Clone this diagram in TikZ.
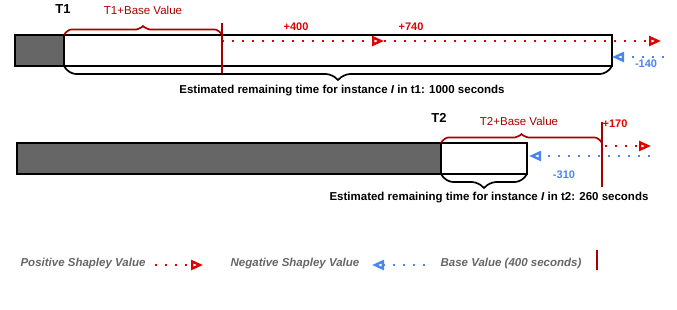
\documentclass[tikz,border=0pt]{standalone}
\usepackage{fontspec}
\setmainfont{Liberation Sans}
\usepackage{tikz}
\usetikzlibrary{positioning,arrows.meta,calc,decorations.pathreplacing}
\definecolor{basered}{RGB}{168,0,0}
\definecolor{posred}{RGB}{224,0,0}
\definecolor{negblue}{RGB}{74,134,232}
\definecolor{bargrey}{RGB}{102,102,102}
\definecolor{legendgrey}{RGB}{102,102,102}
\tikzset{
  greybar/.style={draw=black, line width=1.8pt, fill=bargrey, minimum height=31pt, inner sep=0pt, outer sep=0pt},
  whitebar/.style={draw=black, line width=1.8pt, fill=white, minimum height=31pt, inner sep=0pt, outer sep=0pt},
  posarrow/.style={posred, line width=2.2pt, dash pattern=on 2pt off 8pt, -{Triangle[open, length=12pt, width=10pt, line width=2.4pt]}},
  negarrow/.style={negblue, line width=2.2pt, dash pattern=on 2pt off 8pt, -{Triangle[open, length=12pt, width=10pt, line width=2.4pt]}},
  basemark/.style={basered, line width=2.2pt},
  basebrace/.style={basered, line width=1.7pt, rounded corners=4pt, decorate, decoration={brace, amplitude=11pt}},
  timebrace/.style={black, line width=1.7pt, rounded corners=4pt, decorate, decoration={brace, amplitude=16pt}},
  tasklabel/.style={font=\bfseries\fontsize{13}{15}\selectfont},
  baselabel/.style={text=basered, font=\fontsize{11.5}{13}\selectfont},
  poslabel/.style={text=posred, font=\bfseries\fontsize{11}{13}\selectfont},
  neglabel/.style={text=negblue, font=\bfseries\fontsize{11}{13}\selectfont},
  timelabel/.style={font=\bfseries\fontsize{11.5}{13}\selectfont},
  legendlabel/.style={text=legendgrey, font=\bfseries\itshape\fontsize{11.5}{13}\selectfont}
}
\begin{document}
\begin{tikzpicture}[x=1pt, y=-1pt, >=Latex]
  \useasboundingbox (0,0) rectangle (677,309);
  % task t1
  \node[greybar, minimum width=49pt, anchor=north west] (g1) at (15,35) {};
  \node[whitebar, minimum width=548pt, anchor=west] (w1) at (g1.east) {};
  \node[tasklabel] (t1) at (63,9) {T1};
  \coordinate (b1top) at (222,23);
  \coordinate (b1bot) at (222,73);
  \draw[basebrace] (w1.north west) -- (w1.north west -| b1top);
  \node[baselabel] (bv1) at (143,10) {T1+Base Value};
  \draw[timebrace] (w1.south east) -- (w1.south west);
  \node[timelabel] (est1) at (342,91) {Estimated remaining time for instance \textit{I} in t1: 1000 seconds};
  \coordinate (p0) at (222,41);
  \coordinate (p1) at (384,41);
  \coordinate (p2) at (661,41);
  \draw[posarrow] (p0) -- (p1);
  \draw[posarrow] (p1) -- (p2);
  \node[poslabel] (plus400) at (296,27) {+400};
  \node[poslabel] (plus740) at (411,27) {+740};
  \coordinate (n0) at (664,57);
  \draw[negarrow] (n0) -- (w1.east |- n0);
  \node[neglabel] (minus140) at (646,64) {-140};
  \draw[basemark] (b1top) -- (b1bot);

  % task t2
  \node[greybar, minimum width=424pt, anchor=north west] (g2) at (17,143) {};
  \node[whitebar, minimum width=86pt, anchor=west] (w2) at (g2.east) {};
  \node[tasklabel] (t2) at (439,118) {T2};
  \coordinate (b2top) at (602,122);
  \coordinate (b2bot) at (602,187);
  \draw[basebrace] (w2.north west) -- (w2.north west -| b2top);
  \node[baselabel] (bv2) at (519,121) {T2+Base Value};
  \draw[timebrace] (w2.south east) -- (w2.south west);
  \node[timelabel] (est2) at (489,198) {Estimated remaining time for instance \textit{I} in t2: 260 seconds};
  \coordinate (q0) at (605,146);
  \coordinate (q1) at (651,146);
  \draw[posarrow] (q0) -- (q1);
  \node[poslabel] (plus170) at (615,124) {+170};
  \coordinate (m0) at (650,156);
  \draw[negarrow] (m0) -- ($(w2.east |- m0)+(2,0)$);
  \node[neglabel] (minus310) at (564,175) {-310};
  \draw[basemark] (b2top) -- (b2bot);

  % legend
  \node[legendlabel] (lpos) at (83,264) {Positive Shapley Value};
  \coordinate (lp0) at (155,265);
  \coordinate (lp1) at (203,265);
  \draw[posarrow] (lp0) -- (lp1);
  \node[legendlabel] (lneg) at (295,264) {Negative Shapley Value};
  \coordinate (ln0) at (425,265);
  \coordinate (ln1) at (372,265);
  \draw[negarrow] (ln0) -- (ln1);
  \node[legendlabel] (lbase) at (511,264) {Base Value (400 seconds)};
  \coordinate (lb0) at (597,250);
  \coordinate (lb1) at (597,270);
  \draw[basemark] (lb0) -- (lb1);
\end{tikzpicture}
\end{document}
